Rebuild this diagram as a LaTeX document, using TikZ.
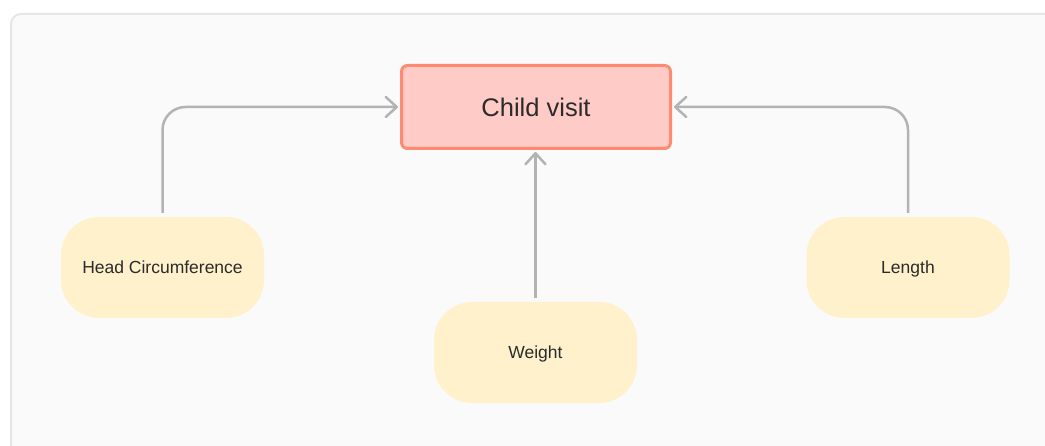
\documentclass[tikz,border=0pt]{standalone}
\usepackage{fontspec}
\setmainfont{Liberation Sans}
\usetikzlibrary{arrows.meta}
\definecolor{panelfill}{HTML}{FAFAFA}
\definecolor{panelline}{HTML}{E6E6E6}
\definecolor{visitline}{HTML}{FF8A72}
\definecolor{visitfill}{HTML}{FFCBC6}
\definecolor{leaffill}{HTML}{FFF1CC}
\definecolor{conncol}{HTML}{B3B3B3}
\definecolor{txt}{HTML}{2B2B2B}
\tikzset{
  mainbox/.style={draw=visitline, fill=visitfill, line width=3pt, rounded corners=6pt,
    minimum width=269pt, minimum height=83pt, inner sep=0pt, text=txt,
    text height=21pt, text depth=2pt,
    font=\fontsize{25.5}{30}\selectfont},
  leafbox/.style={fill=leaffill, rounded corners=38pt, minimum width=203pt,
    minimum height=101pt, inner sep=0pt, text=txt, text height=14pt, text depth=1.5pt,
    font=\fontsize{17.5}{20}\selectfont},
  conn/.style={draw=conncol, line width=2.5pt, rounded corners=23pt,
    -{Straight Barb[length=11pt,width=20pt,line cap=round,line join=round]}}
}
\begin{document}
\begin{tikzpicture}[x=1pt,y=-1pt]
\useasboundingbox (0,0) rectangle (1045,446);
\fill[white] (0,0) rectangle (1045,446);
\begin{scope}
\clip (0,0) rectangle (1045,446);
\draw[panelline, fill=panelfill, line width=2pt, rounded corners=10pt] (11,14) rectangle (1080,480);
\end{scope}
\node[mainbox] (visit) at (536,107) {Child visit};
\node[leafbox] (hc) at (162.5,267.5) {Head Circumference};
\node[leafbox] (weight) at (535.5,352.5) {Weight};
\node[leafbox] (len) at (908,267.5) {Length};
\draw[conn, shorten >=2pt] ([yshift=4pt]hc.north) |- (visit.west);
\draw[conn, shorten >=2pt] ([yshift=4pt]len.north) |- (visit.east);
\draw[conn, shorten >=2pt] ([yshift=4pt]weight.north) -- (weight.north |- visit.south);
\end{tikzpicture}
\end{document}
